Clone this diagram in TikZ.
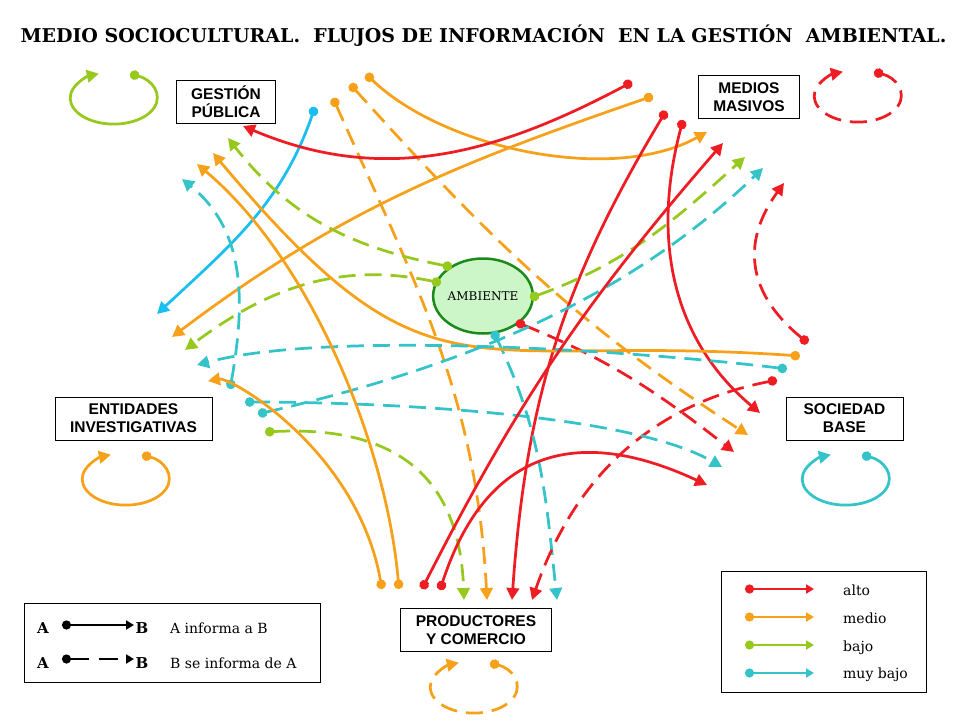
\documentclass[tikz,border=0pt]{standalone}
\usepackage{fontspec}
\setmainfont{DejaVu Serif}
\newfontfamily\palo{Liberation Sans}
\usetikzlibrary{arrows.meta}
\usetikzlibrary{shapes.geometric}

\definecolor{rojo}{HTML}{EE1C23}
\definecolor{naranja}{HTML}{F7A11A}
\definecolor{lima}{HTML}{96C81E}
\definecolor{turquesa}{HTML}{33C3C8}
\definecolor{celeste}{HTML}{1ABEF0}
\definecolor{bosque}{HTML}{1A8A1A}
\definecolor{pasto}{HTML}{CCF5C8}

\tikzset{
    flujo/.style={line width=2.75pt, {Circle[length=9.5pt]}-{Triangle[length=12pt,width=12.5pt]}},
    consulta/.style={flujo, dash pattern=on 17pt off 9pt},
    muestra/.style={line width=2.75pt, {Circle[length=9pt]}-{Triangle[length=8pt,width=9pt]}},
    ente/.style={draw, line width=0.8pt, align=center, inner xsep=15pt, inner ysep=3pt, minimum height=43pt,
        font=\palo\bfseries\fontsize{15.5}{18}\selectfont},
    alto/.style={color=rojo},
    medio/.style={color=naranja},
    bajo/.style={color=lima},
    muybajo/.style={color=turquesa},
}

\begin{document}
\begin{tikzpicture}[x=1pt, y=1pt]
    \useasboundingbox (0,0) rectangle (960,-720);
    \node[anchor=base, font=\bfseries\fontsize{19}{22}\selectfont] (titulo) at (483.5,-42) {MEDIO SOCIOCULTURAL.\ \ FLUJOS DE INFORMACIÓN\ \ EN LA GESTIÓN\ \ AMBIENTAL.};

    \node[ente] (ges) at (226,-101.5) {GESTIÓN\\PÚBLICA};
    \node[ente] (med) at (749,-97) {MEDIOS\\MASIVOS};
    \node[ente] (ent) at (133.5,-418.5) {ENTIDADES\\INVESTIGATIVAS};
    \node[ente, minimum width=117pt] (soc) at (844.5,-418.5) {SOCIEDAD\\BASE};
    \node[ente] (pro) at (476,-630) {PRODUCTORES\\Y COMERCIO};
    \node[ellipse, draw=bosque, fill=pasto, line width=2.5pt, minimum width=92pt, minimum height=75pt, inner sep=0pt,
        font=\fontsize{12}{14}\selectfont] (amb) at (483,-296) {AMBIENTE};

    % salidas
    \coordinate (ges-a) at (366,-74);  \coordinate (ges-b) at (350,-84);
    \coordinate (ges-c) at (333,-98);  \coordinate (ges-d) at (315,-107);
    \coordinate (med-a) at (632,-82);  \coordinate (med-b) at (653,-96);
    \coordinate (med-c) at (666,-111); \coordinate (med-d) at (683,-120);
    \coordinate (amb-a) at (452,-267); \coordinate (amb-b) at (441,-283);
    \coordinate (amb-c) at (530,-298); \coordinate (amb-d) at (516,-322);
    \coordinate (amb-e) at (493,-331);
    \coordinate (soc-a) at (808,-343); \coordinate (soc-b) at (800,-356);
    \coordinate (soc-c) at (787,-369); \coordinate (soc-d) at (777,-380);
    \coordinate (ent-a) at (230,-389); \coordinate (ent-b) at (245,-402);
    \coordinate (ent-c) at (258,-414); \coordinate (ent-d) at (265,-432);
    \coordinate (pro-a) at (382,-589); \coordinate (pro-b) at (399,-589);
    \coordinate (pro-c) at (422,-589); \coordinate (pro-d) at (440,-590);
    % llegadas
    \coordinate (ges-1) at (243,-126); \coordinate (ges-2) at (228,-138);
    \coordinate (ges-3) at (213,-153); \coordinate (ges-4) at (197,-164);
    \coordinate (ges-5) at (182,-179);
    \coordinate (med-1) at (707,-132); \coordinate (med-2) at (723,-143);
    \coordinate (med-3) at (745,-157); \coordinate (med-4) at (763,-168);
    \coordinate (med-5) at (784,-183);
    \coordinate (ent-1) at (157,-314); \coordinate (ent-2) at (172,-337);
    \coordinate (ent-3) at (185,-350); \coordinate (ent-4) at (197,-365);
    \coordinate (ent-5) at (208,-381);
    \coordinate (soc-1) at (760,-413); \coordinate (soc-2) at (748,-435);
    \coordinate (soc-3) at (734,-452); \coordinate (soc-4) at (722,-467);
    \coordinate (soc-5) at (707,-485);
    \coordinate (pro-1) at (464,-600); \coordinate (pro-2) at (487,-600);
    \coordinate (pro-3) at (512,-600); \coordinate (pro-4) at (532,-600);
    \coordinate (pro-5) at (557,-600);
    % bucles
    \coordinate (ges-o) at (130,-74);  \coordinate (med-o) at (874,-72);
    \coordinate (ent-o) at (142,-455); \coordinate (soc-o) at (862,-455);
    \coordinate (pro-o) at (490,-663);

    \draw[flujo, bajo] (ges-o) arc[start angle=68, end angle=-250, x radius=43.5pt, y radius=26pt];
    \draw[consulta, alto] (med-o) arc[start angle=68, end angle=-250, x radius=43.5pt, y radius=26pt];
    \draw[flujo, medio] (ent-o) arc[start angle=68, end angle=-250, x radius=43.5pt, y radius=26pt];
    \draw[flujo, muybajo] (soc-o) arc[start angle=68, end angle=-250, x radius=43.5pt, y radius=26pt];
    \draw[consulta, medio] (pro-o) arc[start angle=68, end angle=-250, x radius=43.5pt, y radius=26pt];

    % gestion publica
    \draw[flujo, medio] (ges-a) to[out=-44, in=209, looseness=0.8] (med-1);
    \draw[consulta, medio] (ges-b) to[out=-48, in=147] (soc-2);
    \draw[consulta, medio] (ges-c) to[out=-66, in=93] (pro-2);
    \draw[flujo, celeste] (ges-d) to[out=251, in=43] (ent-1);
    % medios masivos
    \draw[flujo, alto] (med-a) to[out=208, in=-23] (ges-1);
    \draw[flujo, medio] (med-b) to[out=199, in=37] (ent-2);
    \draw[flujo, alto] (med-c) to[out=239, in=86] (pro-3);
    \draw[flujo, alto] (med-d) to[out=255, in=140] (soc-1);
    % ambiente
    \draw[consulta, bajo] (amb-a) to[out=169, in=-52] (ges-2);
    \draw[consulta, bajo] (amb-b) to[out=168, in=37] (ent-3);
    \draw[consulta, bajo] (amb-c) to[out=20, in=222] (med-3);
    \draw[consulta, alto] (amb-d) to[out=-22, in=142] (soc-3);
    \draw[consulta, muybajo] (amb-e) to[out=-64, in=96] (pro-5);
    % sociedad base
    \draw[consulta, alto] (soc-a) to[out=141, in=234, looseness=1.2] (med-5);
    \draw[flujo, medio] (soc-b) to[out=176, in=-50, looseness=1.4] (ges-3);
    \draw[consulta, muybajo] (soc-c) to[out=173, in=15, looseness=0.6] (ent-4);
    \draw[consulta, alto] (soc-d) to[out=191, in=71] (pro-4);
    % entidades investigativas
    \draw[consulta, muybajo] (ent-a) to[out=80, in=-39] (ges-5);
    \draw[consulta, muybajo] (ent-b) to[out=0, in=150, looseness=0.6] (soc-4);
    \draw[consulta, muybajo] (ent-c) to[out=13, in=224, looseness=0.9] (med-4);
    \draw[consulta, bajo] (ent-d) to[out=3, in=92, looseness=1.25] (pro-1);
    % productores y comercio
    \draw[flujo, medio] (pro-a) to[out=100, in=10, out looseness=1.33, in looseness=0.22] (ent-5);
    \draw[flujo, medio] (pro-b) to[out=95, in=-40, looseness=0.8] (ges-4);
    \draw[flujo, alto] (pro-c) to[out=63, in=229] (med-2);
    \draw[flujo, alto] (pro-d) to[out=72, in=155, looseness=1.3] (soc-5);

    % leyenda de sentido
    \draw[line width=0.8pt] (24,-603) rectangle (320,-682);
    \node[anchor=base, font=\bfseries\fontsize{15}{17}\selectfont] (la1) at (43,-633) {A};
    \node[anchor=base, font=\bfseries\fontsize{15}{17}\selectfont] (lb1) at (142,-633) {B};
    \node[anchor=base, font=\bfseries\fontsize{15}{17}\selectfont] (la2) at (43,-668) {A};
    \node[anchor=base, font=\bfseries\fontsize{15}{17}\selectfont] (lb2) at (142,-668) {B};
    \coordinate (l1-o) at (62,-625);  \coordinate (l1-t) at (134,-625);
    \coordinate (l2-o) at (62,-659);  \coordinate (l2-t) at (134,-659);
    \draw[muestra, black] (l1-o) -- (l1-t);
    \draw[muestra, black, dash pattern=on 19pt off 10pt] (l2-o) -- (l2-t);
    \node[anchor=base west, inner sep=0pt, font=\fontsize{14}{16}\selectfont] (lt1) at (170,-633) {A informa a B};
    \node[anchor=base west, inner sep=0pt, font=\fontsize{14}{16}\selectfont] (lt2) at (170,-668) {B se informa de A};

    % leyenda de nivel
    \draw[line width=0.8pt] (721,-571) rectangle (926,-692);
    \coordinate (n1-o) at (745,-589); \coordinate (n1-t) at (814,-589);
    \coordinate (n2-o) at (745,-617); \coordinate (n2-t) at (814,-617);
    \coordinate (n3-o) at (745,-645); \coordinate (n3-t) at (814,-645);
    \coordinate (n4-o) at (745,-673); \coordinate (n4-t) at (814,-673);
    \draw[muestra, alto] (n1-o) -- (n1-t);
    \draw[muestra, medio] (n2-o) -- (n2-t);
    \draw[muestra, bajo] (n3-o) -- (n3-t);
    \draw[muestra, muybajo] (n4-o) -- (n4-t);
    \node[anchor=base west, inner sep=0pt, font=\fontsize{14}{16}\selectfont] (nt1) at (843,-595) {alto};
    \node[anchor=base west, inner sep=0pt, font=\fontsize{14}{16}\selectfont] (nt2) at (843,-623) {medio};
    \node[anchor=base west, inner sep=0pt, font=\fontsize{14}{16}\selectfont] (nt3) at (843,-651) {bajo};
    \node[anchor=base west, inner sep=0pt, font=\fontsize{14}{16}\selectfont] (nt4) at (843,-678) {muy bajo};
\end{tikzpicture}
\end{document}
